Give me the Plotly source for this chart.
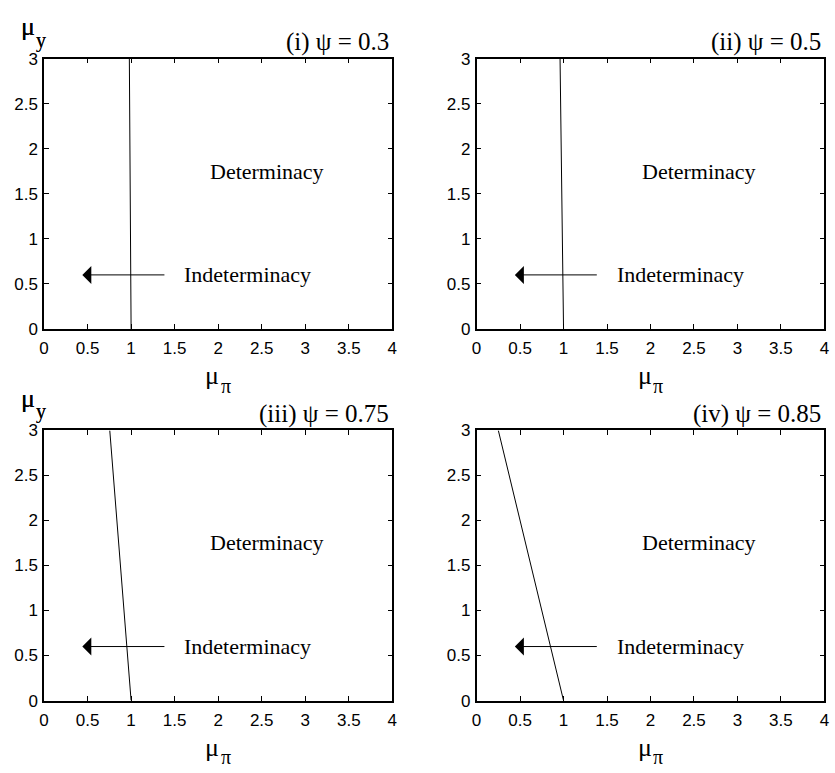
import plotly.graph_objects as go

# ---- data ----
panel_titles = ["(i) \u03c8 = 0.3", "(ii) \u03c8 = 0.5", "(iii) \u03c8 = 0.75", "(iv) \u03c8 = 0.85"]
mu_y_ends = [0, 3]
boundary_mu_pi_bottom = [1.0, 1.0, 1.0, 1.0]     # mu_pi at mu_y = 0
boundary_mu_pi_top = [0.98, 0.96, 0.755, 0.25]   # mu_pi at mu_y = 3
x_ticks = [0, 0.5, 1, 1.5, 2, 2.5, 3, 3.5, 4]
x_tick_text = ["0", "0.5", "1", "1.5", "2", "2.5", "3", "3.5", "4"]
y_ticks = [0, 0.5, 1, 1.5, 2, 2.5, 3]
y_tick_text = ["0", "0.5", "1", "1.5", "2", "2.5", "3"]
label_det = "Determinacy"
label_indet = "Indeterminacy"
det_pos = (1.88, 1.75)
indet_pos = (1.59, 0.6)
arrow_tail = (1.40, 0.6)
arrow_tip = (0.44, 0.6)

W, H = 835, 773
# pixel layout of plot areas
xdoms_px = [(39.5, 392.0), (477.3, 829.3)]
ydoms_px = [(51.0, 328.0), (432.0, 709.0)]

fig = go.Figure()
serif = "Liberation Serif, Times New Roman, serif"
sans = "Liberation Sans, Arial, sans-serif"

annotations = []
for i in range(4):
    r, c = divmod(i, 2)
    xa = "x" if i == 0 else f"x{i+1}"
    ya = "y" if i == 0 else f"y{i+1}"
    xkey = "xaxis" if i == 0 else f"xaxis{i+1}"
    ykey = "yaxis" if i == 0 else f"yaxis{i+1}"
    x0p, x1p = xdoms_px[c]
    t_px, b_px = ydoms_px[r]
    xdom = [x0p / W, x1p / W]
    ydom = [1 - b_px / H, 1 - t_px / H]
    axis_common = dict(
        showline=True, linecolor="black", linewidth=1.5, mirror="ticks",
        ticks="inside", ticklen=5, tickwidth=1, tickcolor="black",
        showgrid=False, zeroline=False,
        tickfont=dict(family=sans, size=17, color="black"),
    )
    fig.update_layout({
        xkey: dict(domain=xdom, range=[0, 4], tickvals=x_ticks, ticktext=x_tick_text,
                   anchor=ya, ticklabelstandoff=3, **axis_common),
        ykey: dict(domain=ydom, range=[0, 3], tickvals=y_ticks, ticktext=y_tick_text,
                   anchor=xa, ticklabelstandoff=1, **axis_common),
    })
    fig.add_trace(go.Scatter(
        x=[boundary_mu_pi_bottom[i], boundary_mu_pi_top[i]], y=mu_y_ends,
        mode="lines", line=dict(color="black", width=1), xaxis=xa, yaxis=ya,
        showlegend=False, hoverinfo="skip"))

    # panel title
    annotations.append(dict(text=panel_titles[i], xref="paper", yref="paper",
                            x=(x1p - 1) / W, y=1 - (t_px - 17) / H,
                            xanchor="right", yanchor="middle", showarrow=False,
                            font=dict(family=serif, size=25, color="black")))
    # y-axis label mu_y
    annotations.append(dict(text="\u03bc", xref="paper", yref="paper",
                            x=23 / W, y=1 - (t_px - 33) / H, xanchor="center", yanchor="middle",
                            showarrow=False, font=dict(family=serif, size=26, color="black")))
    annotations.append(dict(text="y", xref="paper", yref="paper",
                            x=36 / W, y=1 - (t_px - 19) / H, xanchor="center", yanchor="middle",
                            showarrow=False, font=dict(family=serif, size=20, color="black")))
    # x-axis label mu_pi
    xc = (x0p + x1p) / 2
    annotations.append(dict(text="\u03bc", xref="paper", yref="paper",
                            x=(xc - 6) / W, y=1 - (b_px + 48) / H, xanchor="center", yanchor="middle",
                            showarrow=False, font=dict(family=serif, size=26, color="black")))
    annotations.append(dict(text="\u03c0", xref="paper", yref="paper",
                            x=(xc + 8) / W, y=1 - (b_px + 58) / H, xanchor="center", yanchor="middle",
                            showarrow=False, font=dict(family=serif, size=20, color="black")))
    # region labels
    annotations.append(dict(text=label_det, xref=xa, yref=ya, x=det_pos[0], y=det_pos[1],
                            xanchor="left", yanchor="middle", showarrow=False,
                            font=dict(family=serif, size=22, color="black")))
    annotations.append(dict(text=label_indet, xref=xa, yref=ya, x=indet_pos[0], y=indet_pos[1],
                            xanchor="left", yanchor="middle", showarrow=False,
                            font=dict(family=serif, size=22, color="black")))
    # arrow
    annotations.append(dict(text="", xref=xa, yref=ya, x=arrow_tip[0], y=arrow_tip[1],
                            axref=xa, ayref=ya, ax=arrow_tail[0], ay=arrow_tail[1],
                            showarrow=True, arrowhead=1, arrowsize=3, arrowwidth=1,
                            arrowcolor="black", standoff=0))

fig.update_layout(
    width=W, height=H, margin=dict(l=0, r=0, t=0, b=0),
    paper_bgcolor="white", plot_bgcolor="white",
    annotations=annotations, showlegend=False,
)

fig.write_html("out.html")
